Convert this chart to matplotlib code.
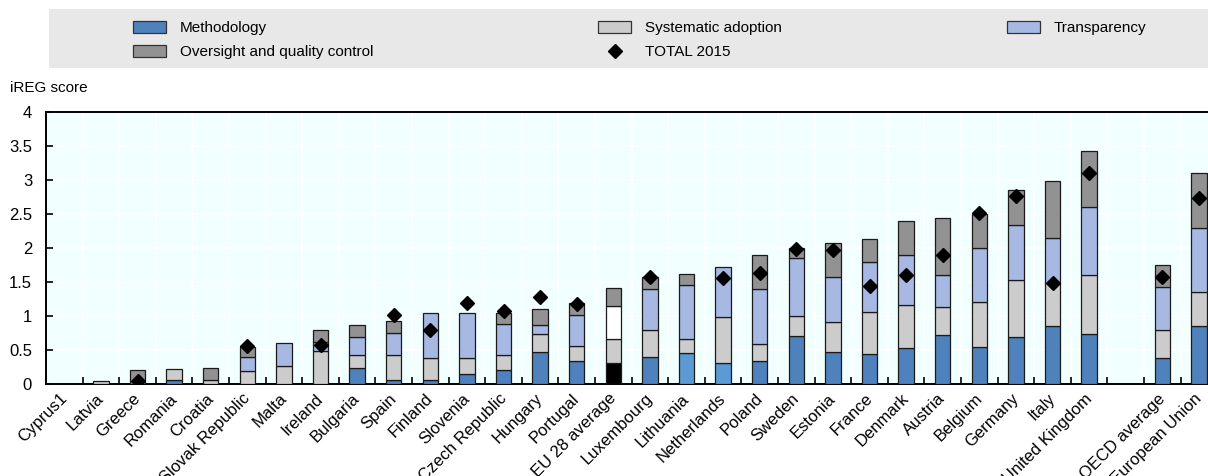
import matplotlib
matplotlib.use("Agg")
import matplotlib.pyplot as plt
import numpy as np
from matplotlib.patches import Rectangle, Patch
from matplotlib.lines import Line2D
from matplotlib.transforms import ScaledTranslation

categories = ["Cyprus1", "Latvia", "Greece", "Romania", "Croatia", "Slovak Republic", "Malta",
              "Ireland", "Bulgaria", "Spain", "Finland", "Slovenia", "Czech Republic", "Hungary",
              "Portugal", "EU 28 average", "Luxembourg", "Lithuania", "Netherlands", "Poland",
              "Sweden", "Estonia", "France", "Denmark", "Austria", "Belgium", "Germany", "Italy",
              "United Kingdom", "", "OECD average", "European Union"]

methodology = [0, 0, 0, 0.06, 0, 0, 0, 0, 0.23, 0.06, 0.06, 0.15, 0.20, 0.47, 0.34, 0.31,
               0.40, 0.46, 0.31, 0.34, 0.70, 0.47, 0.44, 0.53, 0.72, 0.55, 0.69, 0.86, 0.73,
               0, 0.38, 0.86]
systematic = [0, 0.04, 0, 0.16, 0.06, 0.19, 0.27, 0.48, 0.20, 0.36, 0.32, 0.23, 0.22, 0.27,
              0.22, 0.35, 0.40, 0.20, 0.68, 0.25, 0.30, 0.44, 0.62, 0.63, 0.41, 0.65, 0.84,
              0.62, 0.87, 0, 0.42, 0.50]
transparency = [0, 0, 0, 0, 0, 0.20, 0.33, 0.14, 0.26, 0.33, 0.66, 0.67, 0.46, 0.13, 0.46,
                0.48, 0.60, 0.79, 0.73, 0.80, 0.86, 0.66, 0.73, 0.74, 0.47, 0.80, 0.81, 0.67,
                1.00, 0, 0.62, 0.93]
oversight = [0, 0, 0.21, 0, 0.18, 0.16, 0, 0.17, 0.18, 0.17, 0, 0, 0.17, 0.24, 0.17, 0.27,
             0.17, 0.17, 0, 0.51, 0.14, 0.50, 0.34, 0.50, 0.84, 0.50, 0.51, 0.84, 0.83,
             0, 0.33, 0.81]
total_2015 = [np.nan, np.nan, 0.04, np.nan, np.nan, 0.565, np.nan, 0.57, np.nan, 1.02, 0.80,
              1.19, 1.07, 1.28, 1.17, np.nan, 1.57, np.nan, 1.56, 1.63, 1.99, 1.97, 1.44,
              1.61, 1.89, 2.51, 2.77, 1.48, 3.10, np.nan, 1.57, 2.73]
yticks = [0, 0.5, 1, 1.5, 2, 2.5, 3, 3.5, 4]

# styles
C_METH = "#4F81BD"
C_METH_HI = "#5B9BD5"
C_SYS = "#CCCCCC"
C_TRA = "#A7B9E3"
C_OVR = "#929292"
EDGE = "#1a1a1a"
highlight_light = {"Lithuania", "Netherlands"}
eu_avg = "EU 28 average"
FS = 11

plt.rcParams['font.family'] = ['Liberation Sans', 'DejaVu Sans']

W, H = 1208, 476
fig = plt.figure(figsize=(W / 100, H / 100), dpi=100)
ax = fig.add_axes([46 / W, 1 - 384 / H, (W - 46) / W, 272 / H])

x = np.arange(len(categories))
width = 0.42

def colors_for(base, eu_color, hi=None):
    out = []
    for c in categories:
        if c == eu_avg:
            out.append(eu_color)
        elif hi is not None and c in highlight_light:
            out.append(hi)
        else:
            out.append(base)
    return out

series = [
    (methodology, colors_for(C_METH, "#000000", C_METH_HI)),
    (systematic, colors_for(C_SYS, C_SYS)),
    (transparency, colors_for(C_TRA, "#FFFFFF")),
    (oversight, colors_for(C_OVR, C_OVR)),
]
bottom = np.zeros(len(categories))
for vals, cols in series:
    v = np.array(vals, dtype=float)
    h = np.where(v > 0, v, np.nan)
    ax.bar(x, h, width, bottom=bottom, color=cols, edgecolor=EDGE, linewidth=0.9, zorder=3)
    bottom = bottom + v

ax.plot(x, total_2015, linestyle="none", marker="D", color="black", ms=7, zorder=5)

ax.set_xlim(-0.5, (W - 46) / 36.6 - 0.5)
ax.set_ylim(0, 4)
ax.set_facecolor("#F2FFFF")
ax.set_yticks(yticks)
ax.set_yticklabels([f"{v:g}" for v in yticks])
ax.tick_params(axis="y", direction="in", length=5, width=1.2, labelsize=12, pad=10)
ax.set_xticks(x)
ax.set_xticklabels(categories, rotation=45, ha="right", rotation_mode="anchor", fontsize=12)
ax.tick_params(axis="x", which="major", length=0, pad=5)
off = ScaledTranslation(-5 / 100, 0, fig.dpi_scale_trans)
for lab in ax.get_xticklabels():
    lab.set_transform(lab.get_transform() + off)
ax.set_xticks(np.arange(0.5, len(categories) - 0.5, 1), minor=True)
ax.tick_params(axis="x", which="minor", direction="in", length=5, width=1.2)
ax.grid(axis="y", which="major", color="white", lw=1.2)
ax.grid(axis="x", which="minor", color="white", lw=1.2)
ax.set_axisbelow(True)
ax.spines["right"].set_visible(False)
for s in ["left", "top", "bottom"]:
    ax.spines[s].set_color("black")
    ax.spines[s].set_linewidth(1.4)

# legend band
fig.patches.append(Rectangle((49 / W, 1 - 68 / H), (W - 49) / W, 59 / H,
                             transform=fig.transFigure, facecolor="#E8E8E8",
                             edgecolor="none", zorder=0))
handles = [
    Patch(facecolor=C_METH, edgecolor="#333333", lw=0.9, label="Methodology"),
    Patch(facecolor=C_OVR, edgecolor="#333333", lw=0.9, label="Oversight and quality control"),
    Patch(facecolor=C_SYS, edgecolor="#333333", lw=0.9, label="Systematic adoption"),
    Line2D([], [], linestyle="none", marker="D", color="black", ms=7, label="TOTAL 2015"),
    Patch(facecolor=C_TRA, edgecolor="#333333", lw=0.9, label="Transparency"),
]
fig.legend(handles=handles, ncol=3, loc="upper left", bbox_to_anchor=(133 / W, 1 - 21 / H),
           frameon=False, fontsize=FS, handlelength=2.15, handleheight=0.85,
           handletextpad=0.9, columnspacing=14.75, labelspacing=0.62, borderpad=0,
           borderaxespad=0)

fig.text(10 / W, 1 - 88 / H, "iREG score", va="center", ha="left", fontsize=FS)

fig.savefig("out.png", dpi=100)
